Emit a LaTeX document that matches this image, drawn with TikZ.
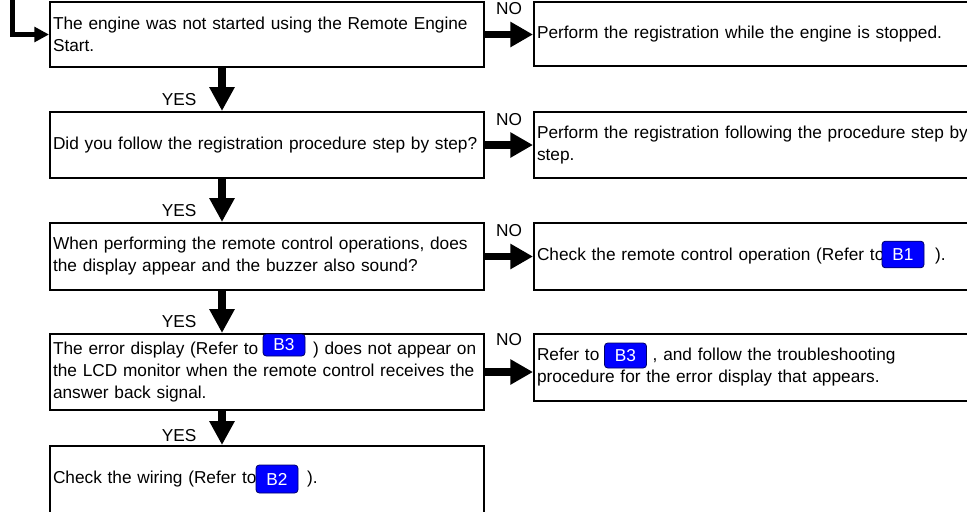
\documentclass[tikz,border=0pt]{standalone}
\usepackage{fontspec}
\setmainfont{Liberation Sans}
\usetikzlibrary{arrows.meta, positioning}
\tikzstyle{askbox}=[draw, rectangle, line width=1.5pt, anchor=north west, inner sep=2.25pt, align=left, minimum width=325.5pt, text width=321pt]
\tikzstyle{fixbox}=[draw, rectangle, line width=1.5pt, anchor=north west, inner sep=2.25pt, align=left, minimum width=335.25pt, text width=330.75pt]
\tikzstyle{yesarrow}=[line width=6.5pt, -{Triangle[width=18pt,length=18pt]}]
\tikzstyle{noarrow}=[line width=5.5pt, -{Triangle[width=18pt,length=17pt]}]
\tikzstyle{startarrow}=[line width=3.75pt, line join=miter, -{Triangle[width=11pt,length=11pt]}]
\tikzstyle{yeslabel}=[pos=0.73, left=16pt, inner sep=0pt]
\tikzstyle{nolabel}=[midway, above=12pt, inner sep=0pt]
\tikzstyle{badge}=[rectangle, fill=blue, draw=blue!40!black, line width=0.6pt, rounded corners=2.5pt, text=white, minimum width=31.5pt, inner sep=0pt]

\begin{document}
\begin{tikzpicture}[x=0.75pt, y=-0.75pt, font=\fontsize{12.95pt}{16.5pt}\selectfont]
        \useasboundingbox (0,0) rectangle (967,511);
        \coordinate (s0) at (12,0);
        \coordinate (ax) at (222,0);

        % questions
        \node (q1) [askbox, minimum height=48.75pt] at (49,1) {The engine was not started using the Remote Engine\\Start.};
        \node (q2) [askbox, minimum height=49.5pt] at (49,111) {Did you follow the registration procedure step by step?};
        \node (q3) [askbox, minimum height=50.25pt] at (49,222) {When performing the remote control operations, does\\the display appear and the buzzer also sound?};
        \node (q4) [askbox, minimum height=57pt] at (49,333) {The error display (Refer to\hspace{41pt}) does not appear on\\the LCD monitor when the remote control receives the\\answer back signal.};
        \node (q5) [askbox, minimum height=50.25pt] at (49,445) {Check the wiring (Refer to\hspace{38pt}).};

        % remedies
        \node (r1) [fixbox, minimum height=48pt] at (533,1) {Perform the registration while the engine is stopped.};
        \node (r2) [fixbox, minimum height=49.5pt] at (533,111) {Perform the registration following the procedure step by\\step.};
        \node (r3) [fixbox, minimum height=50.25pt] at (533,222) {Check the remote control operation (Refer to\hspace{38pt}).};
        \node (r4) [fixbox, minimum height=50.25pt] at (533,333) {Refer to\hspace{40pt}, and follow the troubleshooting\\procedure for the error display that appears.};

        \node (k1) [badge, minimum height=20pt] at (903,254.5) {B1};
        \node (k3) [badge, minimum height=16.5pt] at (284,345) {B3};
        \node (k4) [badge, minimum height=18.75pt] at (625.5,355.5) {B3};
        \node (k2) [badge, minimum height=21pt] at (277,479) {B2};

        \draw [startarrow] (s0) -- (s0 |- q1.west) -- (q1.west);

        \draw [yesarrow] (q1.south -| ax) -- node[yeslabel] {YES} (q2.north -| ax);
        \draw [yesarrow] (q2.south -| ax) -- node[yeslabel] {YES} (q3.north -| ax);
        \draw [yesarrow] (q3.south -| ax) -- node[yeslabel] {YES} (q4.north -| ax);
        \draw [yesarrow] (q4.south -| ax) -- node[yeslabel] {YES} (q5.north -| ax);

        \draw [noarrow] (q1.east) -- node[nolabel] {NO} (r1.west |- q1.east);
        \draw [noarrow] (q2.east) -- node[nolabel] {NO} (r2.west |- q2.east);
        \draw [noarrow] (q3.east) -- node[nolabel] {NO} (r3.west |- q3.east);
        \draw [noarrow] (q4.east) -- node[nolabel, above=17pt] {NO} (r4.west |- q4.east);
\end{tikzpicture}
\end{document}
